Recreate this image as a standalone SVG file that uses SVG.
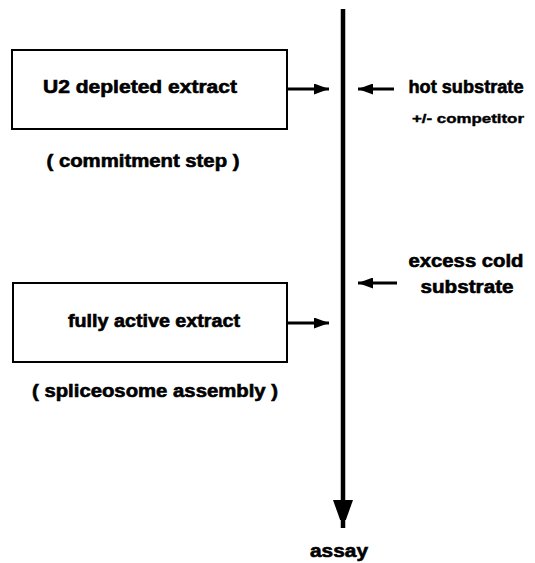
<svg xmlns="http://www.w3.org/2000/svg" width="535" height="563" viewBox="0 0 535 563">
<style>
text{font-family:"Liberation Sans",Arial,sans-serif;font-weight:bold;fill:#000;stroke:#000;stroke-width:0.6}
.big{font-size:18px}
.sm{font-size:13px;stroke-width:0.4}
.box{fill:#fff;stroke:#000;stroke-width:2}
.ln{stroke:#000;stroke-width:2.8;fill:none}
</style>
<defs>
<marker id="ah2" markerWidth="15" markerHeight="11" refX="15" refY="5.5" orient="auto" markerUnits="userSpaceOnUse">
<path d="M0,0 L15,5.5 L0,11 Z" fill="#000"/>
</marker>
<marker id="ahv" markerWidth="20" markerHeight="28" refX="28" refY="10" orient="auto" markerUnits="userSpaceOnUse">
<path d="M0,0 L28,10 L0,20 Z" fill="#000"/>
</marker>
</defs>
<rect width="535" height="563" fill="#fff"/>
<g id="u2">
<rect class="box" x="12" y="50" width="275" height="79"/>
<text class="big" x="140" y="93" text-anchor="middle" textLength="194" lengthAdjust="spacingAndGlyphs">U2 depleted extract</text>
<text class="big" x="143" y="167" text-anchor="middle" textLength="193" lengthAdjust="spacingAndGlyphs">( commitment step )</text>
</g>
<g id="fully">
<rect class="box" x="13" y="283" width="274" height="79"/>
<text class="big" x="154" y="327" text-anchor="middle" textLength="172" lengthAdjust="spacingAndGlyphs">fully active extract</text>
<text class="big" x="155" y="397" text-anchor="middle" textLength="246" lengthAdjust="spacingAndGlyphs">( spliceosome assembly )</text>
</g>
<g id="hot">
<text class="big" x="466" y="93" text-anchor="middle" textLength="115" lengthAdjust="spacingAndGlyphs">hot substrate</text>
<text class="sm" x="468" y="123" text-anchor="middle" textLength="112" lengthAdjust="spacingAndGlyphs">+/- competitor</text>
</g>
<g id="cold">
<text class="big" x="466" y="267" text-anchor="middle" textLength="115" lengthAdjust="spacingAndGlyphs">excess cold</text>
<text class="big" x="467" y="293" text-anchor="middle" textLength="93" lengthAdjust="spacingAndGlyphs">substrate</text>
</g>
<g id="assay">
<text class="big" x="339" y="557" text-anchor="middle" textLength="58" lengthAdjust="spacingAndGlyphs">assay</text>
</g>
<g id="connectors">
<line x1="343" y1="9" x2="343" y2="528" stroke="#000" stroke-width="4.5" marker-end="url(#ahv)"/>
<line class="ln" x1="287" y1="89" x2="329" y2="89" marker-end="url(#ah2)"/>
<line class="ln" x1="287" y1="323" x2="329" y2="323" marker-end="url(#ah2)"/>
<line class="ln" x1="394" y1="89" x2="358" y2="89" marker-end="url(#ah2)"/>
<line class="ln" x1="397" y1="283" x2="358" y2="283" marker-end="url(#ah2)"/>
</g>
</svg>
